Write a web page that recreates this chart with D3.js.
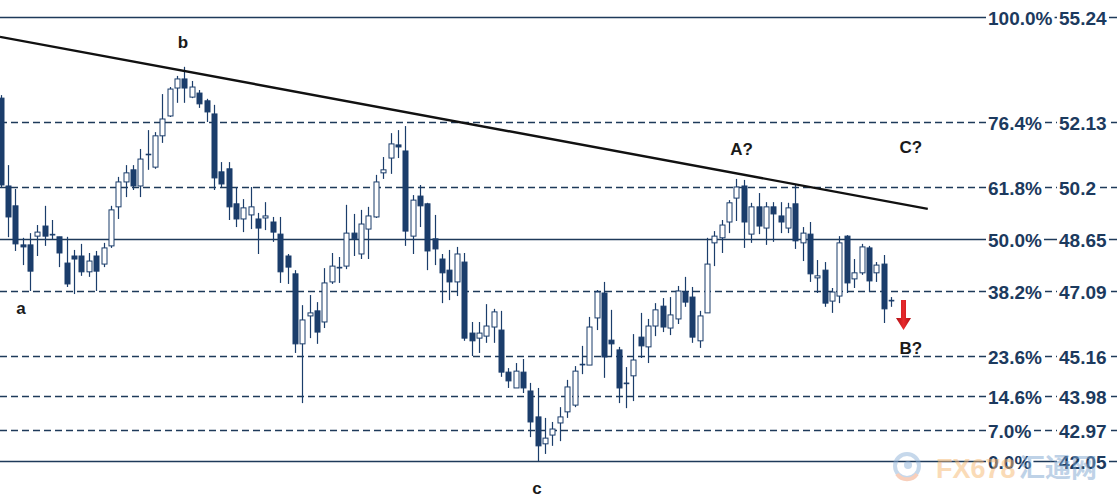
<!DOCTYPE html>
<html>
<head>
<meta charset="utf-8">
<script src="https://cdn.jsdelivr.net/npm/d3@7/dist/d3.min.js"></script>
<style>
  html, body { margin: 0; padding: 0; background: #ffffff; }
  svg { display: block; }
</style>
</head>
<body>
<svg id="chart" width="1117" height="502"></svg>
<script>
// ---------------- DATA ----------------
const openP = [52.83,50.22,49.63,48.47,48.47,48.73,49.03,48.79,48.71,47.93,48.14,48.14,47.67,48.14,47.90,48.44,49.60,50.34,50.70,50.22,51.17,50.78,51.71,52.30,53.13,53.40,52.86,52.98,52.75,52.36,50.64,50.73,49.69,49.24,49.36,49.24,49.27,49.15,48.79,48.14,47.61,45.53,46.36,46.51,46.18,47.37,47.81,47.84,48.82,48.20,48.94,49.30,50.61,51.05,51.44,51.26,48.73,49.92,49.69,48.65,48.05,47.72,47.37,47.96,45.85,45.70,45.76,46.03,45.94,44.69,44.22,44.69,44.13,43.36,42.56,42.82,43.18,43.51,43.71,44.93,44.90,46.30,47.04,45.64,45.35,44.37,44.58,45.73,45.44,46.06,46.65,46.00,46.27,47.07,46.92,45.62,46.45,48.53,48.68,49.15,49.86,50.22,48.79,49.60,48.97,49.60,49.33,48.97,49.69,48.53,48.79,47.49,47.72,46.80,46.95,48.73,47.46,47.64,48.38,47.64,47.90,46.83];
const highP = [52.92,50.84,50.13,48.68,48.82,49.06,49.63,49.21,48.71,48.71,48.32,48.50,48.23,48.29,48.53,49.63,50.49,50.84,50.84,51.32,51.88,51.82,52.95,53.16,53.49,53.76,53.34,53.07,52.81,52.63,50.93,50.93,50.19,49.83,50.19,49.42,49.74,49.30,49.30,48.20,47.72,46.68,46.98,46.77,47.78,48.23,48.11,49.66,49.39,49.51,49.60,50.55,51.08,51.79,51.88,52.00,49.95,50.25,49.72,49.36,48.20,48.32,48.41,48.23,46.18,46.18,46.71,46.57,46.51,44.81,44.96,45.08,44.37,44.22,43.33,43.21,43.65,44.46,44.87,45.47,46.33,47.13,47.37,46.54,45.44,44.84,45.82,46.45,46.27,46.74,46.89,46.92,47.25,47.52,47.22,46.51,48.68,48.88,49.21,49.80,50.43,50.40,49.72,50.01,49.74,49.74,49.74,49.72,50.25,49.00,49.15,48.02,47.96,47.19,48.73,48.76,48.05,48.50,48.44,47.96,48.17,46.92];
const lowP = [50.16,48.70,48.29,47.87,47.10,48.14,48.44,48.62,47.81,47.22,47.01,47.55,47.52,47.10,47.81,48.38,49.24,49.89,50.10,49.89,50.70,50.73,51.50,52.27,52.69,52.69,52.83,52.54,52.12,50.10,50.19,49.21,49.00,48.85,48.94,48.20,48.91,48.56,47.34,47.31,45.26,43.77,45.70,45.53,46.00,47.31,47.34,47.75,48.14,48.05,48.05,49.27,50.43,50.58,51.05,48.44,48.20,49.00,47.72,47.87,46.74,46.83,46.95,45.62,45.17,45.26,45.56,45.56,44.55,44.22,44.22,44.07,42.76,42.05,42.26,42.50,42.64,43.33,43.65,44.63,44.90,45.94,44.52,45.14,43.77,43.62,43.83,45.11,44.96,45.76,45.88,45.79,46.12,46.63,45.56,45.41,46.45,47.84,48.23,48.82,49.18,48.38,48.53,48.79,48.47,48.56,48.82,48.82,48.35,47.99,47.37,47.04,46.63,46.45,46.74,47.04,47.19,47.58,47.07,47.37,46.15,46.63];
const closeP = [50.25,49.30,48.50,48.41,47.69,48.85,48.73,48.79,48.23,47.31,48.05,47.67,47.99,47.69,48.38,49.51,50.34,50.61,50.22,51.02,51.17,51.71,52.21,53.10,53.40,53.13,53.16,52.66,52.42,50.46,50.28,49.60,49.24,49.57,49.60,48.97,49.33,48.85,47.67,47.81,45.53,46.24,46.45,45.88,47.34,47.84,47.81,48.82,48.65,49.09,49.33,50.34,50.70,51.47,51.38,48.88,49.80,49.63,48.29,48.35,47.64,47.37,48.20,45.70,45.62,45.85,46.06,46.48,44.69,44.43,44.72,44.22,43.21,42.50,42.73,43.00,43.36,44.25,44.72,44.93,46.03,47.07,45.14,45.53,44.22,44.37,45.05,45.47,46.06,46.54,46.03,46.39,47.10,46.77,45.73,46.36,47.90,48.73,49.06,49.72,50.19,49.15,49.60,49.03,49.60,49.39,49.15,49.57,48.59,48.82,47.61,47.55,46.74,47.07,48.53,47.34,47.64,48.41,47.40,47.87,46.57,46.83];

const fibPct   = ["100.0%","76.4%","61.8%","50.0%","38.2%","23.6%","14.6%","7.0%","0.0%"];
const fibPrice = [55.24, 52.13, 50.2, 48.65, 47.09, 45.16, 43.98, 42.97, 42.05];
const fibLabel = ["55.24","52.13","50.2","48.65","47.09","45.16","43.98","42.97","42.05"];
const fibSolid = [true, false, false, true, false, false, false, false, true];

const waveText  = ["b", "a", "c", "A?", "C?", "B?"];
const waveIndex = [24.8, 2.8, 72.9, 100.7, 123.7, 123.7];
const wavePrice = [54.32, 46.42, 41.07, 51.14, 51.20, 45.23];

const trendIndex = [-0.07, 126.0];
const trendPrice = [54.65, 49.54];

const arrowIndex = 122.7;
const arrowPrice = [46.83, 45.94];

// ---------------- CHART ----------------
const W = 1117, H = 502;
const NAVY = "#1b3d6b";
const LINE = "#1e3a5a";
const TXT = "#1c3a5e";

const svg = d3.select("#chart");
svg.append("rect").attr("width", W).attr("height", H).attr("fill", "#fff");

const x = d3.scaleLinear().domain([0, 121]).range([0.5, 891]);
const y = d3.scaleLinear().domain([42.05, 55.24]).range([461, 17]);

// fib lines
const fibs = fibPrice.map((p, i) => ({p, pct: fibPct[i], lab: fibLabel[i], solid: fibSolid[i]}));
svg.append("g").selectAll("line").data(fibs).join("line")
  .attr("x1", 0).attr("x2", W)
  .attr("y1", d => Math.round(y(d.p)) + 0.5).attr("y2", d => Math.round(y(d.p)) + 0.5)
  .attr("stroke", LINE).attr("stroke-width", 1.3)
  .attr("stroke-dasharray", d => d.solid ? null : "7,4");

// candles
const candles = openP.map((o, i) => ({i, o, h: highP[i], l: lowP[i], c: closeP[i]}));
const bw = 5;
const cg = svg.append("g");
const cs = cg.selectAll("g").data(candles).join("g");
cs.append("line")
  .attr("x1", d => Math.round(x(d.i)) + 0.5).attr("x2", d => Math.round(x(d.i)) + 0.5)
  .attr("y1", d => y(d.h)).attr("y2", d => y(d.l))
  .attr("stroke", NAVY).attr("stroke-width", 1.2);
cs.append("rect")
  .attr("x", d => Math.round(x(d.i)) + 0.5 - bw / 2)
  .attr("width", bw)
  .attr("y", d => y(Math.max(d.o, d.c)))
  .attr("height", d => Math.max(1, Math.abs(y(d.o) - y(d.c))))
  .attr("fill", d => d.c < d.o ? NAVY : (d.c === d.o ? NAVY : "#fff"))
  .attr("stroke", NAVY).attr("stroke-width", d => d.c === d.o ? 0.6 : 1);

// trend line
svg.append("line")
  .attr("x1", x(trendIndex[0])).attr("y1", y(trendPrice[0]))
  .attr("x2", x(trendIndex[1])).attr("y2", y(trendPrice[1]))
  .attr("stroke", "#111").attr("stroke-width", 2.4);

// fib labels with white backgrounds
const lg = svg.append("g").attr("font-family", "'Liberation Sans', Arial, sans-serif")
  .attr("font-weight", "bold").attr("font-size", 19).attr("fill", TXT);
fibs.forEach(d => {
  const yy = Math.round(y(d.p)) + 0.5;
  [[988, d.pct], [1059, d.lab]].forEach(([tx, s]) => {
    const bg = lg.append("rect").attr("fill", "#fff");
    const t = lg.append("text").attr("x", tx).attr("y", yy + 7).text(s);
    const b = t.node().getBBox();
    bg.attr("x", b.x - 2).attr("y", yy - 9).attr("width", b.width + 4).attr("height", 18);
  });
});

// wave labels
svg.append("g").selectAll("text").data(waveText.map((t, i) => ({t, i: waveIndex[i], p: wavePrice[i]})))
  .join("text")
  .attr("x", d => x(d.i)).attr("y", d => y(d.p))
  .attr("text-anchor", "middle")
  .attr("font-family", "'Liberation Sans', Arial, sans-serif")
  .attr("font-weight", "bold").attr("font-size", 17).attr("fill", "#1a1a1a")
  .text(d => d.t);

// red arrow
const ax = x(arrowIndex), ay1 = y(arrowPrice[0]), ay2 = y(arrowPrice[1]);
const grad = svg.append("defs").append("linearGradient").attr("id", "rg").attr("x1", 0).attr("x2", 1);
grad.append("stop").attr("offset", 0).attr("stop-color", "#b01015");
grad.append("stop").attr("offset", 0.5).attr("stop-color", "#e8292c");
grad.append("stop").attr("offset", 1).attr("stop-color", "#b01015");
svg.append("path")
  .attr("d", `M${ax-2.5},${ay1} L${ax+2.5},${ay1} L${ax+2.5},${ay2-12} L${ax+7.5},${ay2-12} L${ax},${ay2} L${ax-7.5},${ay2-12} L${ax-2.5},${ay2-12} Z`)
  .attr("fill", "url(#rg)");

// watermark
const wm = svg.append("g").attr("opacity", 0.5);
wm.append("circle").attr("cx", 907).attr("cy", 466).attr("r", 12)
  .attr("fill", "none").attr("stroke", "#8fb3d9").attr("stroke-width", 4);
wm.append("path").attr("d", "M897,474 A12,12 0 0 0 917,474").attr("fill", "none")
  .attr("stroke", "#f2a07a").attr("stroke-width", 4);
wm.append("circle").attr("cx", 908).attr("cy", 465).attr("r", 4).attr("fill", "#8fb3d9");
wm.append("text").attr("x", 936).attr("y", 478)
  .attr("font-family", "'Liberation Sans', Arial, sans-serif").attr("font-weight", "bold")
  .attr("font-size", 27).attr("fill", "#f7b871").text("FX678");
wm.append("text").attr("x", 1019).attr("y", 477)
  .attr("font-family", "'Noto Sans CJK SC', sans-serif").attr("font-weight", "bold")
  .attr("font-size", 26).attr("fill", "#7fa6d0").text("汇通网");
</script>
</body>
</html>
